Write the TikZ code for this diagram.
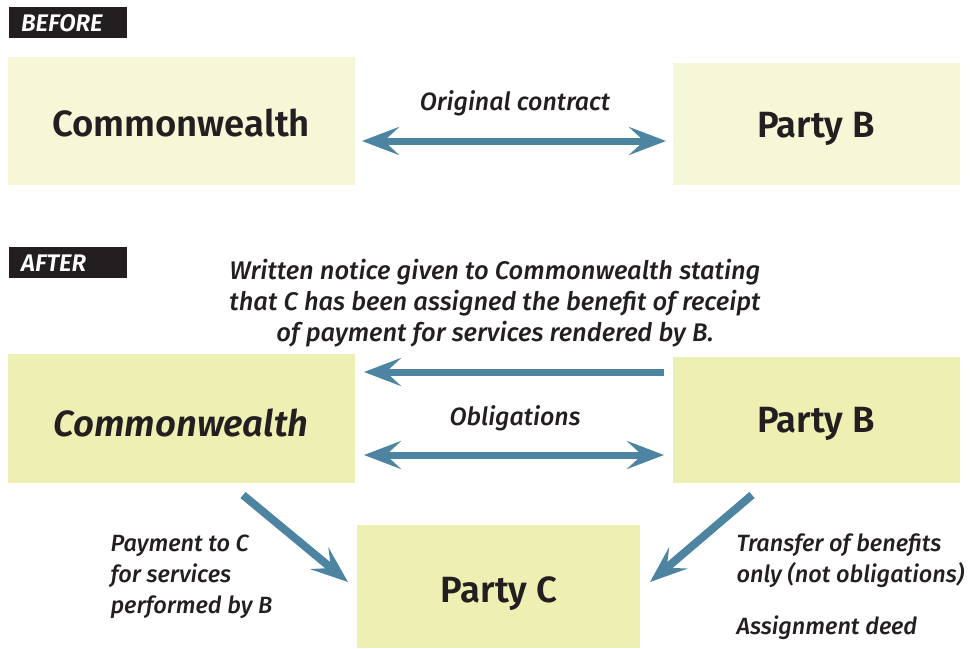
\documentclass[tikz,border=0pt]{standalone}
\usepackage{fontspec}
\setmainfont{Fira Sans}[BoldFont={Fira Sans SemiBold},BoldItalicFont={Fira Sans SemiBold Italic}]
\newfontfamily\medfont{Fira Sans Medium}[ItalicFont={Fira Sans Medium Italic}]
\usetikzlibrary{arrows.meta}
\definecolor{arrowblue}{HTML}{4D84A1}
\definecolor{palebox}{HTML}{F5F7D6}
\definecolor{afterbox}{HTML}{EEF0B3}
\definecolor{tagblack}{HTML}{231F20}
\definecolor{txt}{HTML}{231F20}
\tikzset{
  tag/.style={fill=tagblack,text=white,inner sep=0pt,anchor=north west,minimum height=31pt,minimum width=118pt,font=\fontsize{24}{26}\selectfont\bfseries\itshape,text width=118pt,align=left},
  beforebox/.style={fill=palebox,inner sep=0pt,anchor=north west},
  afterboxst/.style={fill=afterbox,inner sep=0pt,anchor=north west},
  boxtext/.style={text=txt,font=\fontsize{36.5}{40}\selectfont\bfseries},
  lbl/.style={text=txt,font=\fontsize{25}{31}\selectfont\medfont\itshape},
  sidelbl/.style={text=txt,font=\fontsize{23.5}{31}\selectfont\medfont\itshape,align=left},
  bigarrow/.style={draw=arrowblue,line width=7pt,-{Stealth[length=37pt,width=28pt,inset=15pt]}},
  dblarrow/.style={draw=arrowblue,line width=7pt,{Stealth[length=37pt,width=28pt,inset=15pt]}-{Stealth[length=37pt,width=28pt,inset=15pt]}},
}
\begin{document}
\begin{tikzpicture}[x=1pt,y=-1pt]
\useasboundingbox (0,0) rectangle (971,648);
% tags
\node[tag] (before) at (9,7) {\hspace*{12pt}BEFORE};
\node[tag] (after) at (9,247) {\hspace*{12pt}AFTER};
% before
\node[beforebox,minimum width=347pt,minimum height=128pt] (cw1) at (8,57) {};
\node[boxtext] (cw1t) at (181,123) {Commonwealth};
\node[beforebox,minimum width=287pt,minimum height=122pt] (pb1) at (673,63) {};
\node[boxtext] (pb1t) at (816,129) {Party B};
\node[lbl,anchor=base] (oc) at (515,110) {Original contract};
\coordinate (oL) at (362,141);
\coordinate (oR) at (666,141);
\draw[dblarrow] (oL) -- (oR);
% after
\node[afterboxst,minimum width=347pt,minimum height=129pt] (cw2) at (8,354) {};
\node[boxtext,font=\fontsize{36.5}{40}\selectfont\bfseries\itshape] (cw2t) at (181,423) {Commonwealth};
\node[afterboxst,minimum width=287pt,minimum height=126pt] (pb2) at (673,357) {};
\node[boxtext] (pb2t) at (816,424) {Party B};
\node[afterboxst,minimum width=283pt,minimum height=123pt] (pc) at (357,525) {};
\node[boxtext] (pct) at (499,594) {Party C};
\node[lbl,align=center,font=\fontsize{25.5}{31}\selectfont\medfont\itshape] (note) at (495,303) {Written notice given to Commonwealth stating\\that C has been assigned the benefit of receipt\\of payment for services rendered by B.};
\coordinate (nR) at (664,372);
\coordinate (nL) at (364,372);
\draw[bigarrow] (nR) -- (nL);
\node[lbl,anchor=base] (obl) at (515,425) {Obligations};
\coordinate (bL) at (364,455);
\coordinate (bR) at (664,455);
\draw[dblarrow] (bL) -- (bR);
\coordinate (dA) at (243,495);
\coordinate (dB) at (348,582);
\draw[bigarrow,line width=8pt] (dA) -- (dB);
\coordinate (eA) at (752,495);
\coordinate (eB) at (650,582);
\draw[bigarrow,line width=8pt] (eA) -- (eB);
\node[sidelbl,anchor=north west] (pay) at (107,531) {Payment to C\\for services\\performed by B};
\node[sidelbl,anchor=north west] (tr) at (733,530) {Transfer of benefits\\only (not obligations)};
\node[sidelbl,anchor=base west] (ad) at (733,634) {Assignment deed};
\end{tikzpicture}
\end{document}
